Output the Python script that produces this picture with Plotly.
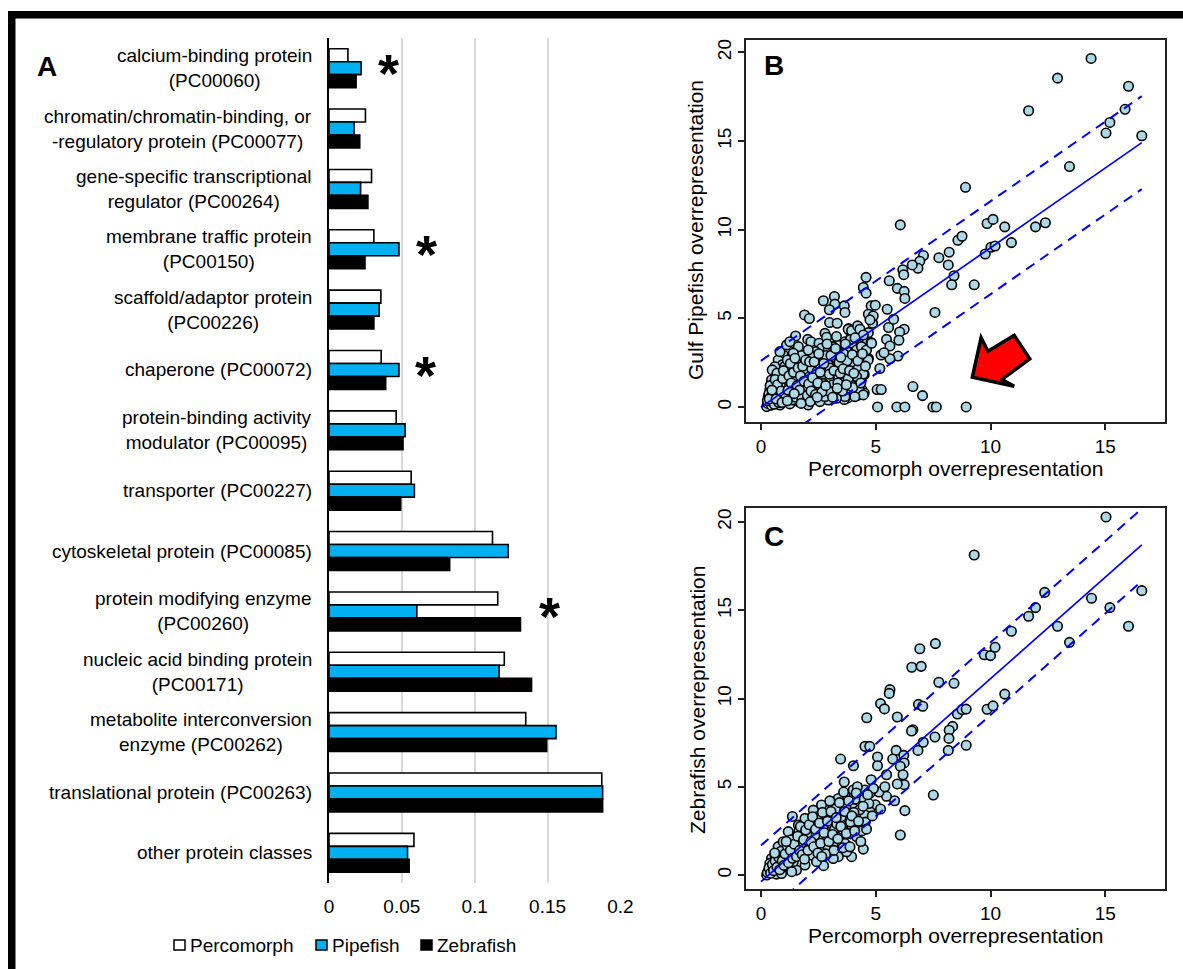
import plotly.graph_objects as go

W, H = 1183, 969
FONT = "Liberation Sans, Arial, sans-serif"

# ---------------- Panel A: protein class proportions ----------------
categories = [
    "calcium-binding protein<br>(PC00060)",
    "chromatin/chromatin-binding, or<br>-regulatory protein (PC00077)",
    "gene-specific transcriptional<br>regulator (PC00264)",
    "membrane traffic protein<br>(PC00150)",
    "scaffold/adaptor protein<br>(PC00226)",
    "chaperone (PC00072)",
    "protein-binding activity<br>modulator (PC00095)",
    "transporter (PC00227)",
    "cytoskeletal protein (PC00085)",
    "protein modifying enzyme<br>(PC00260)",
    "nucleic acid binding protein<br>(PC00171)",
    "metabolite interconversion<br>enzyme (PC00262)",
    "translational protein (PC00263)",
    "other protein classes",
]
percomorph = [0.0130, 0.0250, 0.0292, 0.0308, 0.0356, 0.0358, 0.0461,
              0.0564, 0.1122, 0.1158, 0.1203, 0.1350, 0.1872, 0.0583]
pipefish = [0.0220, 0.0172, 0.0217, 0.0480, 0.0344, 0.0480, 0.0522,
            0.0586, 0.1230, 0.0603, 0.1167, 0.1558, 0.1878, 0.0539]
zebrafish = [0.0186, 0.0211, 0.0267, 0.0247, 0.0308, 0.0389, 0.0508,
             0.0492, 0.0828, 0.1314, 0.1390, 0.1494, 0.1878, 0.0550]
# categories flagged as significant, with the x position of the asterisk
starred = {0: 0.041, 3: 0.067, 5: 0.066, 9: 0.151}
bar_ticks = [0, 0.05, 0.1, 0.15, 0.2]
bar_tick_text = ["0", "0.05", "0.1", "0.15", "0.2"]

series_names = ["Percomorph", "Pipefish", "Zebrafish"]
series_colors = ["#FFFFFF", "#00B0F0", "#000000"]
series_values = [percomorph, pipefish, zebrafish]

# ---------------- Panels B and C: overrepresentation scatter ----------------
panel_b_points = [
    # sparse high-value region
    (14.38, 19.66), (12.92, 18.55), (16.01, 18.09), (11.66, 16.71), (15.86, 16.79),
    (15.20, 16.05), (15.03, 15.45), (16.59, 15.30), (13.44, 13.56), (8.91, 12.39),
    (6.07, 10.27), (9.85, 10.35), (10.11, 10.58), (10.62, 10.16), (11.96, 10.16),
    (12.39, 10.39), (10.91, 9.27), (9.77, 8.63), (10.02, 9.01), (10.20, 9.08),
    (8.58, 9.40), (8.76, 9.63), (8.20, 8.73), (8.16, 8.01), (7.75, 8.42),
    (8.41, 7.40), (8.31, 6.89), (9.29, 6.89), (7.58, 5.33), (7.08, 8.54),
    (6.92, 8.22), (6.84, 7.82), (6.59, 8.01), (6.18, 7.74), (6.22, 7.46),
    (5.94, 6.69), (6.24, 6.52), (6.27, 6.12), (5.59, 7.12), (5.56, 4.48),
    (5.78, 4.95), (6.24, 4.38), (6.04, 4.23), (5.50, 5.51), (5.97, 2.87),
    (5.62, 2.72), (5.23, 2.93), (5.18, 2.17), (5.06, 0.98), (5.24, 0.98),
    (5.08, 0.00), (5.92, 0.00), (6.27, 0.00), (7.49, 0.00), (7.64, 0.00),
    (8.94, 0.00), (6.62, 1.15), (7.04, 0.64), (4.68, 2.74), (4.50, 1.83),
    (4.40, 0.98), (4.50, 0.79), (4.20, 0.64), (4.58, 7.31), (4.46, 6.74),
    (4.58, 6.42), (3.20, 6.23), (2.72, 5.99), (3.22, 5.80), (3.63, 5.70),
    (3.66, 5.33), (2.98, 5.48), (1.90, 5.19), (2.11, 4.99), (4.80, 5.70),
    (4.98, 5.74), (4.68, 5.23), (3.82, 4.42), (2.99, 4.76), (3.32, 4.72),
    (1.51, 4.00), (2.04, 3.81), (5.47, 3.81), (6.01, 3.76), (5.62, 3.44),
    (5.36, 3.06), (4.68, 4.19), (4.86, 4.72), (4.32, 2.30), (4.12, 1.78),
    (3.85, 1.55), (3.78, 0.51), (3.63, 0.42), (3.93, 4.10), (4.26, 4.29),
    (4.15, 3.63), (4.38, 3.29), (4.61, 3.63), (4.80, 3.63),
    # dense low-value region
    (4.89, 5.13), (4.75, 4.91), (2.79, 4.15), (2.86, 3.93), (2.18, 3.68),
    (3.80, 4.38), (3.95, 4.30), (4.21, 4.57), (4.31, 4.38), (4.46, 4.06),
    (3.66, 3.68), (3.29, 3.97), (2.53, 3.59), (2.64, 3.31), (2.38, 3.12),
    (1.19, 3.21), (1.02, 2.88), (1.34, 2.84), (0.75, 2.65), (0.93, 2.37),
    (0.61, 2.27), (0.49, 2.09), (1.55, 2.46), (1.84, 2.56), (2.13, 2.37),
    (1.70, 2.09), (2.28, 1.90), (2.67, 2.27), (3.08, 2.46), (3.29, 2.65),
    (3.51, 2.27), (3.80, 2.84), (4.02, 2.37), (4.24, 2.18), (4.46, 1.86),
    (4.17, 1.71), (4.67, 2.65), (3.66, 1.71), (3.37, 1.80), (2.96, 1.62),
    (2.61, 1.71), (2.71, 1.33), (3.11, 1.24), (3.51, 1.15), (3.92, 1.24),
    (4.27, 0.96), (4.46, 0.68), (4.09, 0.58), (3.66, 0.58), (3.29, 0.49),
    (2.93, 0.39), (2.57, 0.30), (2.21, 0.49), (1.92, 0.77), (1.63, 0.30),
    (1.34, 0.58), (1.04, 0.30), (0.75, 0.49), (0.54, 0.21), (0.25, 0.02),
    (0.39, 0.30), (0.68, 0.77), (0.90, 1.05), (1.12, 1.33), (1.41, 1.15),
    (1.63, 1.43), (1.92, 1.24), (2.21, 1.43), (2.42, 1.05), (0.39, 0.96),
    (0.61, 1.33), (0.75, 1.71), (1.04, 1.80), (1.34, 1.90), (1.55, 1.80),
    (1.19, 1.52), (0.46, 1.52), (0.32, 0.58), (0.83, 0.11), (1.26, 0.17),
    (2.06, 0.11), (2.79, 0.58), (3.14, 0.86), (1.92, 1.90), (1.77, 2.90),
    (1.63, 3.40), (1.41, 3.03), (2.93, 3.21), (3.14, 3.40), (3.43, 3.12),
    (3.72, 3.31), (3.95, 3.59), (4.17, 3.21), (4.38, 3.40), (4.60, 3.21),
    (4.82, 3.59), (2.79, 2.74), (2.50, 2.65), (2.28, 2.84), (2.06, 3.21),
    (0.83, 3.12), (1.12, 3.50), (1.26, 3.68), (0.30, 0.20), (0.45, 0.10),
    (0.50, 0.45), (0.60, 0.60), (0.70, 0.30), (0.80, 0.80), (0.55, 0.90),
    (0.65, 1.10), (0.90, 0.60), (1.00, 1.00), (1.10, 0.70), (1.20, 1.20),
    (1.30, 0.90), (0.85, 1.30), (1.45, 1.60), (1.50, 1.00), (1.60, 0.70),
    (1.70, 1.30), (1.80, 1.60), (1.90, 1.10), (2.00, 2.00), (2.10, 1.70),
    (2.20, 2.20), (2.35, 1.50), (2.45, 2.00), (2.55, 2.40), (2.70, 2.10),
    (2.85, 2.90), (3.00, 2.20), (3.20, 2.80), (3.40, 2.50), (3.60, 3.00),
    (3.75, 2.60), (3.90, 3.80), (4.10, 3.90), (4.30, 2.90), (1.35, 2.20),
    (1.05, 2.30), (0.70, 1.90), (0.40, 1.20), (0.35, 0.75), (2.60, 1.20),
    (2.95, 0.90), (3.35, 1.35), (3.80, 1.60), (4.00, 1.10), (3.55, 0.90),
    (0.28, 0.35), (0.42, 0.55), (0.52, 0.70), (0.58, 0.15), (0.62, 1.55),
    (0.72, 1.25), (0.78, 0.25), (0.88, 0.90), (0.95, 1.60), (0.98, 2.05),
    (1.08, 0.50), (1.15, 2.65), (1.18, 0.95), (1.22, 1.75), (1.28, 2.45),
    (1.32, 1.35), (1.38, 0.40), (1.42, 1.95), (1.48, 2.75), (1.52, 0.55),
    (1.58, 1.20), (1.62, 2.20), (1.68, 0.95), (1.72, 1.75), (1.78, 0.45),
    (1.82, 2.30), (1.88, 1.45), (1.95, 2.65), (2.02, 0.65), (2.08, 1.30),
    (2.12, 2.55), (2.18, 0.90), (2.25, 1.65), (2.32, 2.55), (2.38, 0.70),
    (2.48, 1.35), (2.52, 3.00), (2.58, 1.95), (2.66, 0.85), (2.74, 2.45),
    (2.82, 1.20), (2.88, 3.55), (2.98, 1.85), (3.05, 2.90), (3.12, 0.55),
    (3.18, 2.05), (3.25, 3.30), (3.32, 1.05), (3.45, 1.90), (3.48, 2.80),
    (3.58, 2.15), (3.68, 3.55), (3.72, 1.25), (3.86, 2.05), (3.98, 2.95),
    (4.05, 1.90), (4.22, 2.60), (4.35, 1.35), (4.42, 3.00), (4.55, 2.30),
    (0.36, 0.45), (0.48, 0.95), (0.66, 0.45), (0.92, 0.25), (1.15, 0.35),
    (1.45, 0.75), (1.75, 0.20), (2.15, 0.30), (2.45, 0.55),
]

panel_c_points = [
    # sparse high-value region
    (15.03, 20.28), (9.29, 18.13), (12.36, 16.01), (14.40, 15.68), (11.96, 15.15),
    (11.66, 14.66), (15.20, 15.15), (16.59, 16.11), (16.01, 14.09), (12.92, 14.09),
    (13.44, 13.18), (10.91, 13.81), (7.60, 13.11), (6.92, 12.82), (9.73, 12.48),
    (10.00, 12.43), (10.20, 12.90), (6.57, 11.77), (6.98, 11.82), (7.75, 10.92),
    (8.41, 10.86), (5.62, 10.50), (5.59, 10.29), (5.21, 9.71), (5.38, 9.41),
    (10.62, 10.25), (9.85, 9.39), (10.11, 9.58), (6.86, 9.67), (7.05, 9.56),
    (4.61, 8.91), (5.94, 8.95), (8.56, 9.12), (8.76, 9.37), (8.94, 9.40),
    (8.35, 8.42), (8.20, 8.20), (8.19, 7.74), (6.62, 8.23), (7.58, 7.82),
    (7.07, 7.52), (6.84, 7.06), (8.16, 7.06), (8.94, 7.35), (7.51, 4.53),
    (4.53, 7.29), (4.74, 7.29), (3.47, 6.57), (4.03, 6.19), (5.08, 6.69),
    (5.08, 6.19), (5.89, 7.06), (6.22, 6.78), (6.24, 6.35), (6.07, 6.16),
    (5.74, 6.57), (6.19, 5.68), (6.24, 5.12), (5.94, 5.16), (5.47, 5.68),
    (5.82, 4.21), (6.27, 3.65), (6.07, 2.27), (4.46, 1.47), (2.73, 0.53),
    (4.98, 3.98), (5.21, 3.74), (5.47, 4.46), (4.80, 5.40), (5.14, 4.70),
    (3.63, 5.27), (1.37, 3.32), (6.56, 8.16), (5.40, 5.00),
    # dense low-value region
    (4.02, 4.82), (4.53, 4.82), (3.08, 4.06), (3.66, 4.53), (3.37, 4.34),
    (4.31, 4.15), (4.75, 4.63), (4.75, 3.59), (3.37, 1.04), (3.95, 1.04),
    (1.55, 0.28), (0.68, 0.05), (0.25, 0.00), (0.32, 0.19), (0.54, 0.47),
    (0.75, 0.76), (0.46, 0.94), (0.90, 1.13), (0.75, 1.61), (0.97, 1.89),
    (1.19, 1.51), (1.34, 1.13), (1.04, 0.47), (1.41, 0.76), (1.63, 1.13),
    (1.70, 1.61), (1.49, 2.08), (1.84, 2.36), (2.06, 1.98), (1.99, 1.51),
    (2.21, 1.13), (2.42, 1.70), (2.21, 2.64), (2.42, 3.02), (2.57, 2.46),
    (2.79, 2.08), (2.93, 1.51), (3.15, 1.79), (2.79, 3.40), (3.00, 2.93),
    (3.20, 2.55), (3.44, 2.17), (3.66, 1.79), (3.73, 1.32), (3.44, 3.59),
    (3.80, 3.21), (3.95, 2.64), (4.17, 2.17), (4.38, 2.83), (4.24, 3.40),
    (4.02, 3.78), (4.53, 3.40), (2.64, 3.97), (3.15, 3.49), (2.28, 3.68),
    (1.92, 3.21), (1.63, 2.83), (1.19, 2.46), (2.42, 0.76), (3.15, 0.94),
    (1.92, 0.57), (1.34, 0.19), (0.90, 0.09), (0.39, 0.66), (0.61, 1.13),
    (1.12, 0.94), (2.50, 2.00), (2.70, 2.70), (2.90, 2.30), (3.10, 3.10),
    (3.30, 2.90), (3.50, 3.30), (3.70, 3.90), (3.90, 3.00), (4.10, 4.30),
    (4.30, 3.70), (4.50, 4.30), (4.40, 2.50), (2.35, 2.25), (1.75, 1.80),
    (1.50, 1.30), (1.25, 1.00), (1.10, 1.35), (0.85, 0.70), (0.60, 0.35),
    (0.95, 0.45), (2.00, 2.30), (2.15, 1.55), (1.65, 2.45), (3.55, 2.60),
    (3.85, 2.35), (4.05, 3.55), (4.70, 4.05), (4.90, 4.90), (4.55, 3.00),
    (3.25, 3.75), (3.00, 4.20), (3.60, 4.70), (4.20, 5.00), (2.45, 3.30),
    (0.28, 0.15), (0.35, 0.40), (0.42, 0.10), (0.50, 0.60), (0.55, 0.25),
    (0.62, 0.80), (0.70, 0.45), (0.78, 1.00), (0.82, 0.30), (0.88, 1.35),
    (0.93, 0.80), (1.00, 0.55), (1.05, 1.20), (1.15, 1.65), (1.20, 0.70),
    (1.28, 1.40), (1.32, 2.00), (1.38, 0.95), (1.45, 1.75), (1.55, 1.05),
    (1.60, 2.20), (1.68, 1.40), (1.72, 2.75), (1.80, 1.15), (1.86, 2.00),
    (1.95, 2.55), (2.05, 1.40), (2.10, 2.85), (2.18, 1.90), (2.25, 3.30),
    (2.30, 1.60), (2.38, 2.60), (2.48, 1.25), (2.55, 2.95), (2.60, 1.80),
    (2.68, 3.55), (2.75, 2.40), (2.82, 1.20), (2.90, 3.05), (2.96, 1.90),
    (3.05, 3.60), (3.12, 2.30), (3.18, 1.40), (3.28, 3.25), (3.35, 2.05),
    (3.42, 4.10), (3.48, 2.75), (3.58, 1.55), (3.65, 3.60), (3.72, 2.35),
    (3.82, 4.20), (3.88, 1.60), (3.96, 3.35), (4.08, 2.50), (4.15, 4.65),
    (4.25, 3.05), (4.35, 1.90), (4.45, 3.90), (4.60, 2.60), (4.65, 4.55),
    (4.85, 3.35), (1.10, 1.90), (0.60, 1.25), (1.90, 0.90), (2.65, 1.05),
]

perc_b, pipefish_b = zip(*panel_b_points)
perc_c, zebrafish_c = zip(*panel_c_points)

# fitted line and prediction band for each panel
fit_b = {"slope": 0.90, "intercept": -0.02, "band": 2.62}
fit_c = {"slope": 1.15, "intercept": -0.38, "band": 2.05}

scatter_ticks = [0, 5, 10, 15, 20]


def fx(p):
    return p / W


def fy(p):
    return 1 - p / H


fig = go.Figure()

# ---- bars ----
for name, color, vals in zip(series_names, series_colors, series_values):
    fig.add_trace(go.Bar(
        y=categories, x=vals, orientation="h", name=name,
        marker=dict(color=color, line=dict(color="#000000", width=1.6)),
        xaxis="x", yaxis="y", showlegend=False,
    ))


def add_scatter(xs, ys, fit, xa, ya):
    fig.add_trace(go.Scatter(
        x=xs, y=ys, mode="markers", xaxis=xa, yaxis=ya, showlegend=False,
        marker=dict(size=9.5, color="#ADD8E6", line=dict(color="#000000", width=1.6)),
    ))
    x0, x1 = 0.0, max(xs)
    for off, dash in [(0.0, "solid"), (fit["band"], "10px,7px"), (-fit["band"], "10px,7px")]:
        fig.add_trace(go.Scatter(
            x=[x0, x1],
            y=[fit["slope"] * x0 + fit["intercept"] + off,
               fit["slope"] * x1 + fit["intercept"] + off],
            mode="lines", xaxis=xa, yaxis=ya, showlegend=False,
            line=dict(color="#0000FF", width=2 if dash != "solid" else 1.7, dash=dash),
        ))


add_scatter(perc_b, pipefish_b, fit_b, "x2", "y2")
add_scatter(perc_c, zebrafish_c, fit_c, "x3", "y3")

tick_font = dict(family=FONT, size=19, color="#000000")

scatter_x = dict(
    range=[-0.65, 17.6], tickvals=scatter_ticks[:4], ticks="outside", ticklen=6,
    tickwidth=1.5, tickcolor="#222222", showline=True, mirror=True,
    linecolor="#222222", linewidth=1.6, showgrid=False, zeroline=False,
    tickfont=tick_font, automargin=False,
)
scatter_y = dict(
    tickvals=scatter_ticks, ticks="outside", ticklen=6, tickwidth=1.5,
    tickcolor="#222222", showline=True, mirror=True, linecolor="#222222",
    linewidth=1.6, showgrid=False, zeroline=False, tickangle=-90,
    tickfont=tick_font, automargin=False,
)

fig.update_layout(
    template="none",
    width=W, height=H,
    margin=dict(l=0, r=0, t=0, b=0, pad=0),
    paper_bgcolor="#FFFFFF", plot_bgcolor="#FFFFFF",
    font=dict(family=FONT, color="#000000"),
    showlegend=False,
    barmode="group", bargap=0.355, bargroupgap=0.0,
    xaxis=dict(
        domain=[fx(329), fx(621)], range=[0, 0.2004], tickvals=bar_ticks,
        ticktext=bar_tick_text, showgrid=True, gridcolor="#D9D9D9",
        gridwidth=1.5, zeroline=False, showline=False, ticks="",
        ticklabelstandoff=10, tickfont=tick_font, anchor="y", automargin=False,
    ),
    yaxis=dict(
        domain=[fy(883), fy(38)], range=[len(categories) - 0.5, -0.5],
        showticklabels=False, ticks="", showgrid=False, zeroline=False,
        showline=True, linecolor="#000000", linewidth=2, anchor="x",
        automargin=False,
    ),
    xaxis2=dict(scatter_x, domain=[fx(746), fx(1165)], anchor="y2"),
    yaxis2=dict(scatter_y, domain=[fy(422), fy(40)], range=[-0.85, 20.7], anchor="x2"),
    xaxis3=dict(scatter_x, domain=[fx(746), fx(1165)], anchor="y3"),
    yaxis3=dict(scatter_y, domain=[fy(889), fy(508)], range=[-0.79, 20.79], anchor="x3"),
)

shapes = [
    # thick frame along the top and left edges
    dict(type="rect", xref="paper", yref="paper", x0=fx(8), x1=1.01, y0=fy(18.5), y1=fy(11),
         fillcolor="#000000", line=dict(width=0), layer="above"),
    dict(type="rect", xref="paper", yref="paper", x0=fx(8), x1=fx(15.5), y0=-0.01, y1=fy(11),
         fillcolor="#000000", line=dict(width=0), layer="above"),
    # red arrow in panel B
    dict(type="path", xref="x2", yref="y2",
         path="M 9.21 1.68 L 9.59 3.91 L 9.89 3.14 L 11.03 4.04 L 11.71 2.72 "
              "L 10.50 1.55 L 11.03 1.17 Z",
         fillcolor="#FF0000", line=dict(color="#000000", width=3.5), layer="above"),
]

annotations = []
# category labels
for i, cat in enumerate(categories):
    annotations.append(dict(
        xref="paper", yref="y", x=fx(314), y=i, xanchor="right", yanchor="middle",
        text=cat, align="center", showarrow=False,
        font=dict(family=FONT, size=19, color="#000000"),
    ))
# significance asterisks
for i, xv in starred.items():
    annotations.append(dict(
        xref="x", yref="y", x=xv, y=i, text="<b>*</b>", showarrow=False,
        xanchor="center", yanchor="middle", yshift=-5,
        font=dict(family=FONT, size=54, color="#000000"),
    ))
# legend
legend_pos = [(174, 188), (316, 330), (421, 435)]
for (sx, tx), name, color in zip(legend_pos, series_names, series_colors):
    shapes.append(dict(type="rect", xref="paper", yref="paper",
                       x0=fx(sx), x1=fx(sx + 11), y0=fy(950), y1=fy(940),
                       fillcolor=color, line=dict(color="#000000", width=1.5)))
    annotations.append(dict(
        xref="paper", yref="paper", x=fx(tx), y=fy(945), xanchor="left",
        yanchor="middle", text=name, showarrow=False,
        font=dict(family=FONT, size=19, color="#000000"),
    ))
# panel letters
for letter, (px, py) in zip("ABC", [(46.5, 66.5), (774, 65.5), (773.5, 536)]):
    annotations.append(dict(
        xref="paper", yref="paper", x=fx(px), y=fy(py), xanchor="center",
        yanchor="middle", text=f"<b>{letter}</b>", showarrow=False,
        font=dict(family=FONT, size=28, color="#000000"),
    ))
# axis titles for the scatter panels
title_font = dict(family=FONT, size=21, color="#000000")
for text, (px, py), angle in [
    ("Percomorph overrepresentation", (955.5, 469), 0),
    ("Gulf Pipefish overrepresentation", (695, 230), -90),
    ("Percomorph overrepresentation", (955.5, 935), 0),
    ("Zebrafish overrepresentation", (697, 700), -90),
]:
    annotations.append(dict(
        xref="paper", yref="paper", x=fx(px), y=fy(py), xanchor="center",
        yanchor="middle", text=text, textangle=angle, showarrow=False,
        font=title_font,
    ))

fig.update_layout(shapes=shapes, annotations=annotations)
fig.write_html("out.html")
